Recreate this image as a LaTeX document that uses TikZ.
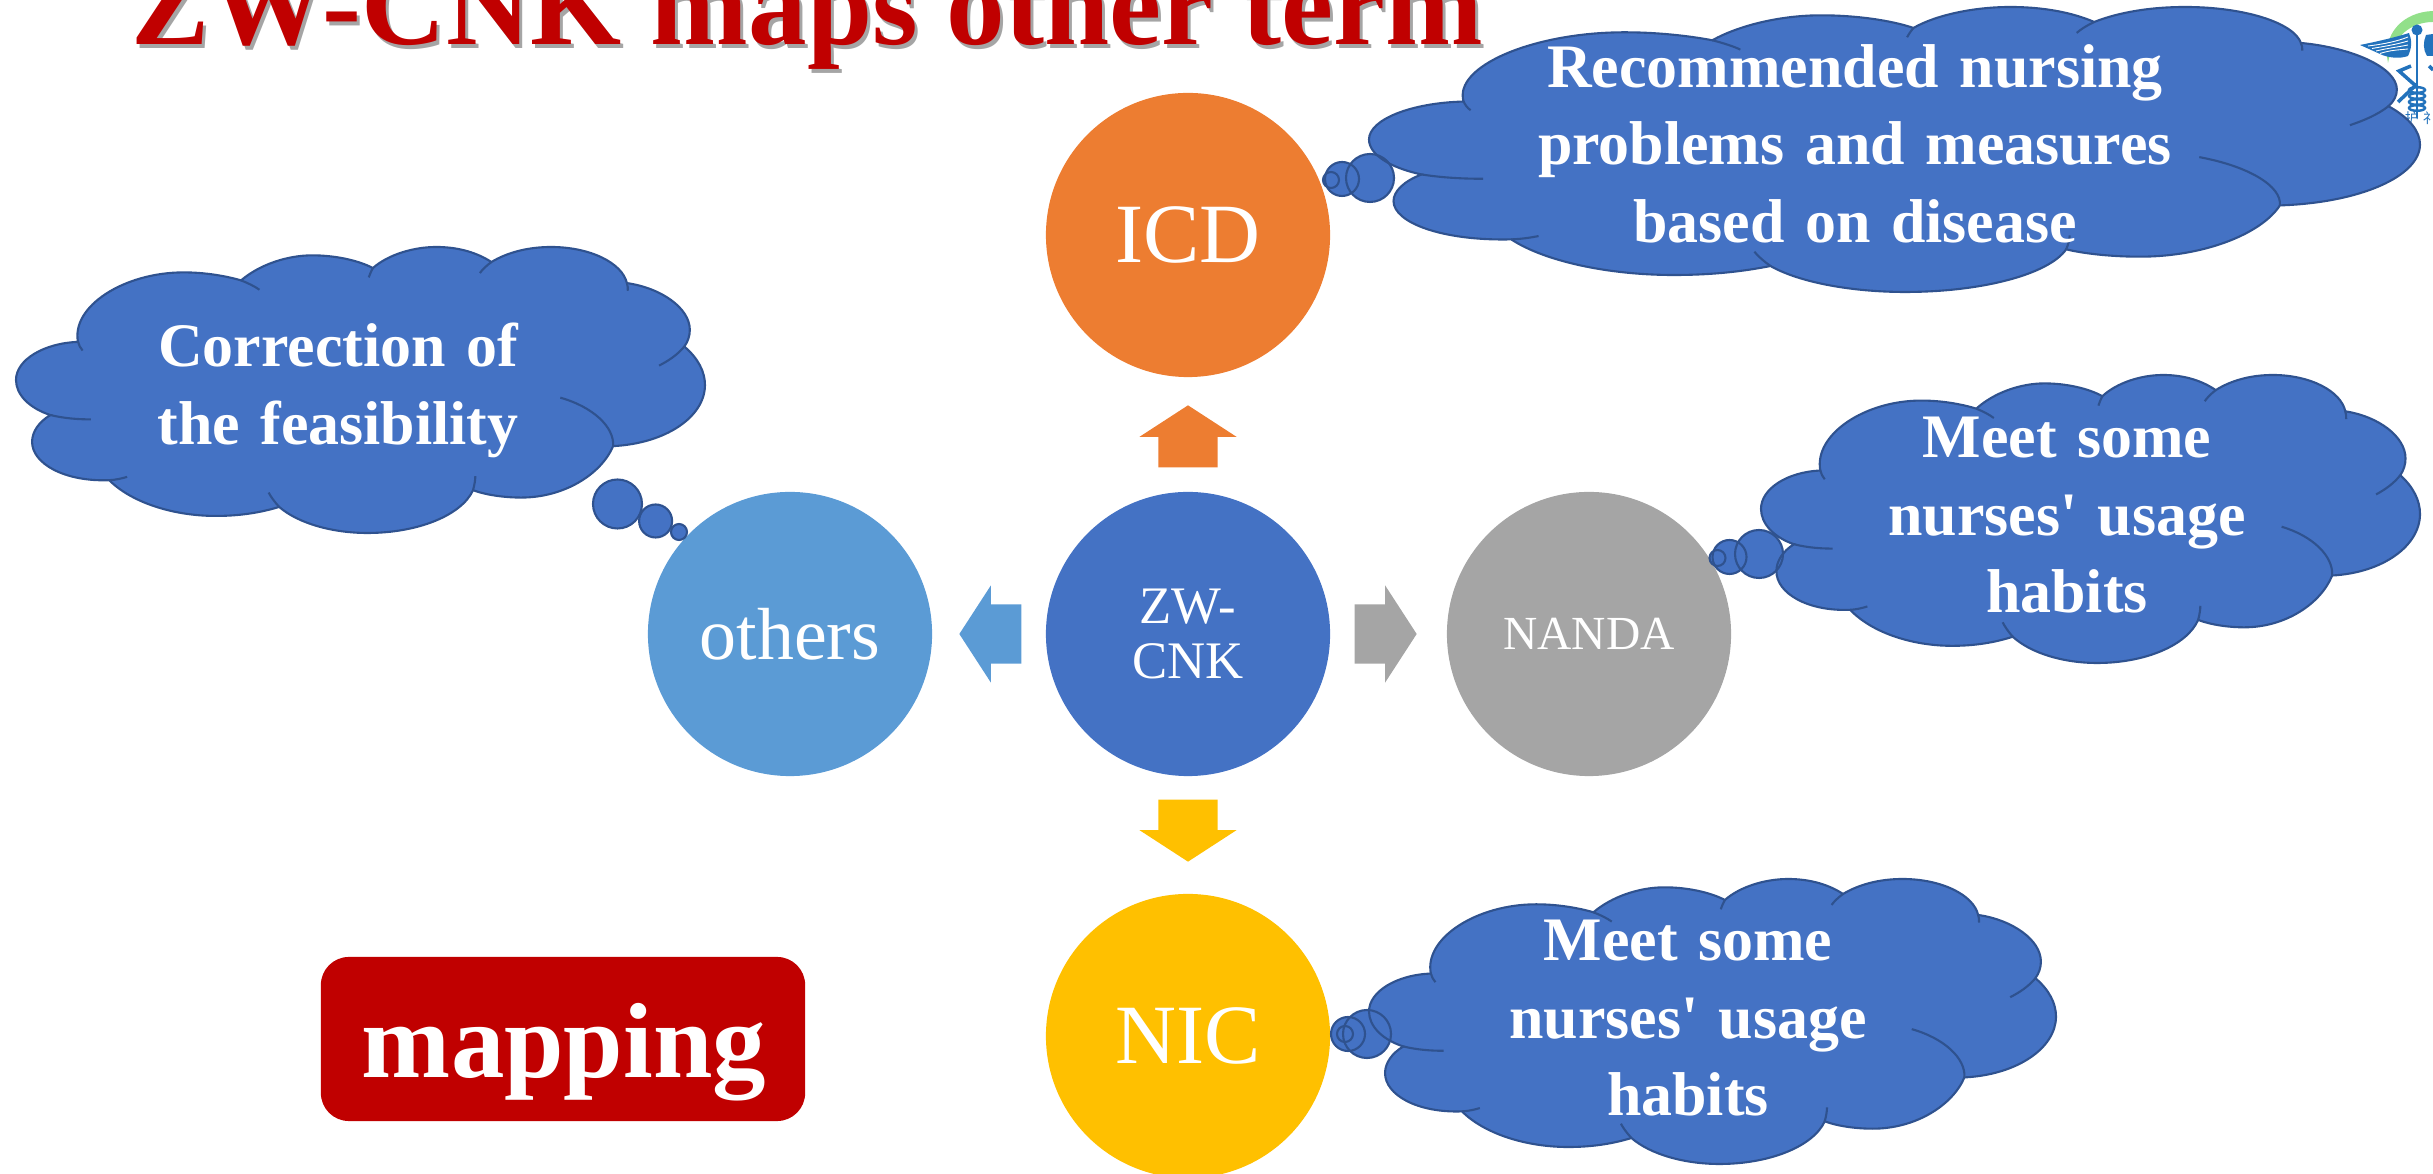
\documentclass[tikz,border=0pt]{standalone}
\usepackage{fontspec}
\setmainfont{Liberation Serif}
\newfontfamily\cloudfont[WordSpace=1.45]{Liberation Serif}
\newfontfamily\cjkfont{Noto Sans CJK SC}
\usetikzlibrary{shapes.arrows}

\definecolor{zwblue}{HTML}{4472C4}
\definecolor{edgeblue}{HTML}{2F528F}
\definecolor{icdorange}{HTML}{ED7D31}
\definecolor{nandagray}{HTML}{A5A5A5}
\definecolor{nicyellow}{HTML}{FFC000}
\definecolor{otherblue}{HTML}{5B9BD5}
\definecolor{titlered}{HTML}{C00000}
\definecolor{logoblue}{HTML}{2272BC}
\definecolor{logogreen}{HTML}{92E08A}

\tikzset{
  termcircle/.style={circle, minimum size=2.84cm, inner sep=0pt, text=white},
  blockarrow/.style={single arrow, text height=0.58cm, text depth=0pt, text width=0.3cm,
    minimum height=0.62cm, inner sep=0pt, outer sep=0pt,
    single arrow head extend=0.19cm, single arrow tip angle=114, single arrow head indent=0pt},
  cloudtext/.style={anchor=base, text=white, text width=8cm, align=center,
    font=\cloudfont\bfseries\fontsize{17.6}{21.9}\selectfont},
  titletext/.style={anchor=base west, font=\bfseries\fontsize{33.3}{36}\selectfont},
}

%% cloud outline: x, y of the upper left corner, width, height
\newcommand{\thinkcloud}[4]{%
  \begin{scope}[shift={(#1,#2)}, xscale=#3/1500, yscale=#4/856, shift={(-35,-52)}]
    \draw[fill=zwblue, draw=edgeblue, line width=0.6pt]
      (170,336) .. controls (155,230) and (270,128) .. (400,128) .. controls (445,128) and (490,138) .. (525,152)
      .. controls (565,105) and (625,77) .. (680,77) .. controls (730,77) and (780,92) .. (812,115)
      .. controls (845,75) and (900,52) .. (950,52) .. controls (1000,52) and (1040,70) .. (1070,97)
      .. controls (1105,68) and (1150,52) .. (1200,52) .. controls (1285,52) and (1355,100) .. (1365,160)
      .. controls (1440,175) and (1502,235) .. (1502,300) .. controls (1502,318) and (1498,335) .. (1490,350)
      .. controls (1520,385) and (1535,425) .. (1535,465) .. controls (1535,560) and (1450,640) .. (1335,648)
      .. controls (1310,730) and (1230,802) .. (1135,802) .. controls (1100,802) and (1060,795) .. (1030,780)
      .. controls (1005,855) and (910,908) .. (800,908) .. controls (725,908) and (650,880) .. (608,830)
      .. controls (565,848) and (520,857) .. (470,857) .. controls (375,857) and (285,815) .. (238,750)
      .. controls (140,755) and (70,700) .. (70,635) .. controls (70,605) and (85,575) .. (110,555)
      .. controls (65,535) and (35,495) .. (35,450) .. controls (35,390) and (95,340) .. (170,336) -- cycle;
    \draw[draw=edgeblue, line width=0.6pt]
      (525,152) .. controls (540,160) and (555,170) .. (565,180)
      (812,115) .. controls (808,125) and (805,135) .. (803,143)
      (1070,97) .. controls (1060,107) and (1050,120) .. (1045,130)
      (1365,160) .. controls (1367,168) and (1367,175) .. (1367,183)
      (1490,350) .. controls (1475,375) and (1455,393) .. (1435,407)
      (1335,648) .. controls (1338,590) and (1290,530) .. (1220,503)
      (1030,780) .. controls (1033,765) and (1035,750) .. (1035,738)
      (608,830) .. controls (598,815) and (590,800) .. (585,787)
      (238,750) .. controls (252,749) and (265,745) .. (277,740)
      (110,555) .. controls (140,565) and (170,568) .. (198,568)
      (170,336) .. controls (172,345) and (175,355) .. (180,362);
  \end{scope}}

\begin{document}
\begin{tikzpicture}[x=0.01cm, y=-0.01cm]
\useasboundingbox (0,0) rectangle (2433,1174);
\clip (0,0) rectangle (2433,1174);

%% logo behind the big cloud
\fill[logogreen] (2388,63) .. controls (2382,35) and (2402,12) .. (2433,11) -- (2433,22)
  .. controls (2410,22) and (2392,38) .. (2388,63) -- cycle;
\fill[logoblue] (2360,45) .. controls (2380,41) and (2400,36) .. (2409,33)
  .. controls (2412,40) and (2412,48) .. (2408,56) .. controls (2400,59) and (2388,58) .. (2380,54) -- cycle;
\fill[logoblue] (2433,34) -- (2426,35) .. controls (2423,42) and (2423,50) .. (2427,56) -- (2433,56) -- cycle;
\foreach \k in {0,1,2,3}
  \draw[white, line width=0.25pt] (2368+4*\k,46+2.5*\k) .. controls (2385+2*\k,44+2*\k) and (2398,41+3*\k) .. (2408,37+4*\k);
\fill[logoblue] (2417,30) circle (5.5);
\draw[logoblue, line width=0.5pt] (2417,30) -- (2417,118);
\draw[logoblue, line width=1pt] (2411,66) -- (2399,71) -- (2417,87);
\draw[logoblue, line width=1pt] (2429,66) -- (2433,70);
\draw[logoblue, line width=1pt] (2417,84) -- (2398,102);
\foreach \y in {90,96,102,108}
  \draw[logoblue, line width=0.7pt] (2417,\y) ellipse (8 and 2.8);
\node[anchor=base, inner sep=0pt, text=logoblue, font=\cjkfont\fontsize{4}{4}\selectfont] (logoa) at (2412,124) {护};
\node[anchor=base, inner sep=0pt, text=logoblue, font=\cjkfont\fontsize{4}{4}\selectfont] (logob) at (2430,124) {礻};

%% title with its shadow
\node[titletext, text=nandagray, inner sep=0pt] (titleshadow) at (134,49) {ZW-CNK maps other term};
\node[titletext, text=titlered, inner sep=0pt] (title) at (131,45) {ZW-CNK maps other term};

%% five circles
\node[termcircle, fill=zwblue, align=center, font=\fontsize{15}{15.6}\selectfont] (zwcnk) at (1188,634) {ZW-\\CNK};
\node[termcircle, fill=icdorange, font=\fontsize{24}{26}\selectfont] (icd) at (1188,235) {ICD};
\node[termcircle, fill=otherblue, font=\fontsize{21}{24}\selectfont] (others) at (790,634) {others};
\node[termcircle, fill=nandagray, font=\fontsize{13.5}{16}\selectfont] (nanda) at (1589,634) {NANDA};
\node[termcircle, fill=nicyellow, font=\fontsize{24}{26}\selectfont] (nic) at (1188,1036) {NIC};

%% block arrows
\node[blockarrow, fill=icdorange, rotate=90] (arrowicd) at (1188,446) {};
\node[blockarrow, fill=nicyellow, rotate=-90] (arrownic) at (1188,821) {};
\node[blockarrow, fill=otherblue, rotate=180] (arrowothers) at (1000,634) {};
\node[blockarrow, fill=nandagray] (arrownanda) at (1376,634) {};

%% bubbles first, the clouds on top, then the bubble edges
\foreach \bx/\by/\br in {1370/178/24, 1342/179/17, 1331/180/8, 617.5/504/24.5, 655.6/521/16.5, 679/532/8,
    1759/554/24, 1729.5/557/17, 1717.5/558/8, 1367/1034/24, 1348/1034/17, 1345/1034/8}
  \fill[zwblue] (\bx,\by) circle (\br);
\thinkcloud{1369}{7}{1051}{285}
\thinkcloud{16}{247}{689}{286}
\thinkcloud{1761}{375}{659}{288}
\thinkcloud{1369}{879}{687}{285}
\foreach \bx/\by/\br in {1370/178/24, 1342/179/17, 1331/180/8, 617.5/504/24.5, 655.6/521/16.5, 679/532/8,
    1759/554/24, 1729.5/557/17, 1717.5/558/8, 1367/1034/24, 1348/1034/17, 1345/1034/8}
  \draw[edgeblue, line width=0.6pt] (\bx,\by) circle (\br);

%% cloud words
\node[cloudtext] (icdtext) at (1855,88) {Recommended nursing\\problems and measures\\based on disease};
\node[cloudtext] (otherstext) at (338,367) {Correction of\\the feasibility};
\node[cloudtext] (nandatext) at (2067,458) {Meet some\\nurses' usage\\habits};
\node[cloudtext] (nictext) at (1688,961) {Meet some\\nurses' usage\\habits};

%% mapping box
\node[fill=titlered, rounded corners=0.28cm, minimum width=4.84cm, minimum height=1.64cm, inner sep=0pt] (mapbox) at (563,1039) {};
\node[anchor=base, inner sep=0pt, text=white, font=\bfseries\fontsize{30.4}{34}\selectfont] (maptext) at (564,1078) {mapping};

\end{tikzpicture}
\end{document}
